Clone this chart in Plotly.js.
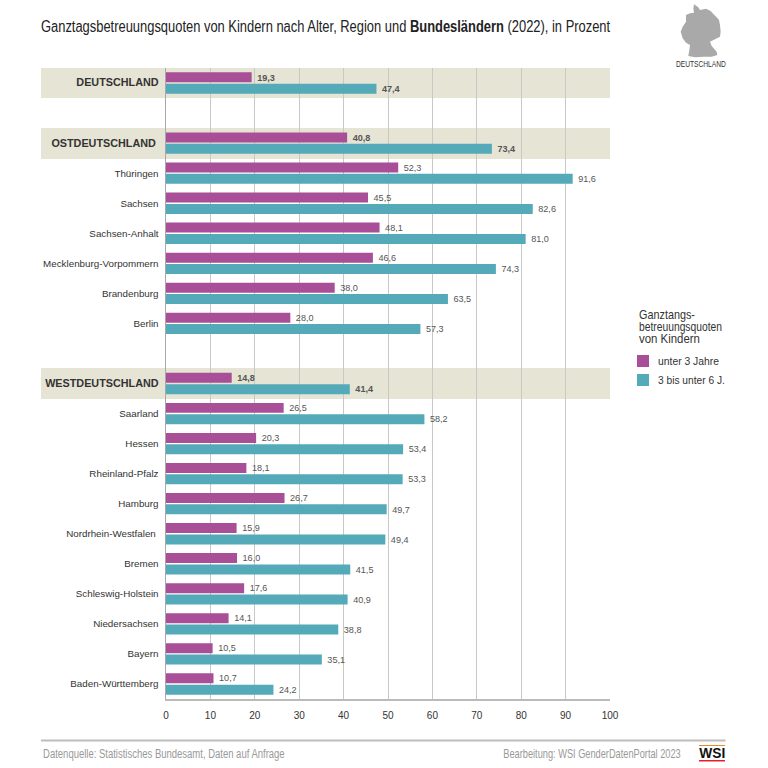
<!DOCTYPE html>
<html>
<head>
<meta charset="utf-8">
<script src="https://cdn.plot.ly/plotly-3.0.1.min.js"></script>
<style>html,body{margin:0;padding:0;background:#fff}</style>
</head>
<body>
<div id="chart" style="width:768px;height:768px"></div>
<script>
const categories = ["DEUTSCHLAND","leer1","OSTDEUTSCHLAND","Thüringen","Sachsen","Sachsen-Anhalt","Mecklenburg-Vorpommern","Brandenburg","Berlin","leer2","WESTDEUTSCHLAND","Saarland","Hessen","Rheinland-Pfalz","Hamburg","Nordrhein-Westfalen","Bremen","Schleswig-Holstein","Niedersachsen","Bayern","Baden-Württemberg"];
const under3 = [19.3,null,40.8,52.3,45.5,48.1,46.6,38.0,28.0,null,14.8,26.5,20.3,18.1,26.7,15.9,16.0,17.6,14.1,10.5,10.7];
const from3to6 = [47.4,null,73.4,91.6,82.6,81.0,74.3,63.5,57.3,null,41.4,58.2,53.4,53.3,49.7,49.4,41.5,40.9,38.8,35.1,24.2];
const headers = ["DEUTSCHLAND","OSTDEUTSCHLAND","WESTDEUTSCHLAND"];
const seriesNames = ["unter 3 Jahre","3 bis unter 6 J."];
const seriesColors = ["#a94f97","#55aab9"];
const legendLines = ["Ganztangs-","betreuungsquoten","von Kindern"];
const NARROW = '"Liberation Sans",Arial,sans-serif';
const SANS = '"Liberation Sans",Arial,sans-serif';

const fmt = (v,c) => {
  if (v === null) return "";
  const s = "\u00a0" + v.toFixed(1).replace(".",",");
  return headers.includes(c) ? "<b>"+s+"</b>" : s;
};
const tickLabel = c => {
  if (c.startsWith("leer")) return "";
  if (c === "OSTDEUTSCHLAND") return '<span style="font-size:10.8px"><b>'+c+'</b></span>\u00a0';
  if (headers.includes(c)) return '<span style="font-size:10.8px"><b>'+c+'</b></span>';
  if (c === "Nordrhein-Westfalen") return c+"\u00a0";
  return c;
};
const bar = (vals,i) => ({
  type:"bar", orientation:"h", name:seriesNames[i], x:vals, y:categories,
  marker:{color:seriesColors[i]},
  text:vals.map((v,k)=>fmt(v,categories[k])), textposition:"outside",
  textfont:{family:SANS,size:10,color:"#555"}, cliponaxis:false,
  hoverinfo:"x+y"
});

const L=166,R=610,T=68,B=699;
const px = x => (x-L)/(R-L);
const py = y => (B-y)/(B-T);
const band = (y0,y1) => ({type:"rect",xref:"paper",yref:"paper",x0:px(41),x1:px(610),y0:py(y0),y1:py(y1),fillcolor:"#e6e4d4",line:{width:0},layer:"below"});
const mapPts = [[72,13],[85,22],[90,30],[108,26],[122,33],[130,42],[140,52],[147,60],[150,75],[152,95],[150,110],[135,118],[120,125],[125,138],[140,155],[142,165],[125,170],[100,170],[75,172],[55,168],[58,150],[60,135],[48,128],[38,115],[32,95],[38,80],[48,65],[48,45],[60,40],[72,38],[70,25]];
const mapPath = "M"+mapPts.map(p=>px(670+p[0]/3).toFixed(4)+","+py(p[1]/3).toFixed(4)).join("L")+"Z";

const note = (x,y,text,size,color,anchor,family) => ({xref:"paper",yref:"paper",x:px(x),y:py(y),text,showarrow:false,xanchor:anchor||"left",yanchor:"middle",font:{family:family||NARROW,size,color}});

// widths the condensed reference lettering occupies; no condensed font is installed
const annWidths = [50,242,178,26,56,83,61];
const annPivot = ["mid","left","right","mid","left","left","left"];

const layout = {
  width:768,height:768,autosize:false,
  margin:{l:L,r:768-R,t:T,b:768-B,pad:0},
  paper_bgcolor:"#fff",plot_bgcolor:"rgba(0,0,0,0)",
  barmode:"group",bargap:0.245,bargroupgap:0.12,
  showlegend:true,
  title:{text:"Ganztagsbetreuungsquoten von Kindern nach Alter, Region und <b>Bundesländern</b> (2022), in Prozent",
    font:{family:NARROW,size:16,color:"#222"},x:41/768,xanchor:"left",xref:"container",y:1-26/768,yanchor:"middle"},
  xaxis:{range:[0,100],tickvals:[0,10,20,30,40,50,60,70,80,90,100],ticks:"",showgrid:true,gridcolor:"#c8c8c4",gridwidth:1,
    showline:true,linecolor:"#bbbbbb",linewidth:2,zeroline:false,fixedrange:true,
    tickfont:{family:SANS,size:10,color:"#333"},ticklabelstandoff:6},
  yaxis:{type:"category",categoryorder:"array",categoryarray:categories,range:[20.5,-0.5],
    tickmode:"array",tickvals:categories,ticktext:categories.map(tickLabel),ticks:"",
    showgrid:false,showline:true,linecolor:"#a8a8a8",linewidth:1.5,zeroline:false,fixedrange:true,
    tickfont:{family:SANS,size:9.8,color:"#333"},ticklabelstandoff:4},
  legend:{xref:"container",yref:"container",x:623/768,y:1-346.5/768,xanchor:"left",yanchor:"top",bgcolor:"rgba(0,0,0,0)",traceorder:"normal",
    font:{family:NARROW,size:11.5,color:"#333"},itemclick:false,itemdoubleclick:false},
  shapes:[
    band(68,98),band(128,159),band(368,399),
    {type:"path",xref:"paper",yref:"paper",path:mapPath,fillcolor:"#a9a9a9",line:{width:0}},
    {type:"line",xref:"paper",yref:"paper",x0:px(41),x1:px(725.5),y0:py(740.5),y1:py(740.5),line:{color:"#bdbdbd",width:2}},
    {type:"rect",xref:"paper",yref:"paper",x0:px(699),x1:px(725),y0:py(745),y1:py(746),fillcolor:"#ee8a1d",line:{width:0}},
    {type:"rect",xref:"paper",yref:"paper",x0:px(699),x1:px(725),y0:py(760),y1:py(761.5),fillcolor:"#e3202c",line:{width:0}}
  ],
  annotations:[
    note(701,64.5,"DEUTSCHLAND",8.5,"#333","center"),
    note(41,754,"Datenquelle: Statistisches Bundesamt, Daten auf Anfrage",12,"#999"),
    note(683,754,"Bearbeitung: WSI GenderDatenPortal 2023",12,"#999","right"),
    note(712,753,"<b>WSI</b>",14,"#111","center",SANS),
    note(637,315,legendLines[0],12,"#333"),
    note(637,327,legendLines[1],12,"#333"),
    note(637,338.5,legendLines[2],12,"#333")
  ]
};

function squeeze(el,width,pivot,shift){
  const b = el.getBBox();
  const s = width / b.width;
  const p = pivot==="left" ? b.x : pivot==="right" ? b.x+b.width : b.x+b.width/2;
  el.setAttribute("transform",`translate(${p+(shift||0)},0) scale(${s},1) translate(${-p},0)`);
}
Plotly.newPlot("chart",[bar(under3,0),bar(from3to6,1)],layout,{displayModeBar:false,staticPlot:true}).then(gd=>{
  squeeze(gd.querySelector(".gtitle"),570,"left");
  gd.querySelectorAll(".annotation-text").forEach((el,i)=>{ squeeze(el,annWidths[i],annPivot[i]); });
  const lw=[61,67];
  gd.querySelectorAll(".legendtext").forEach((el,i)=>{ squeeze(el,lw[i],"left",-5); });
});
</script>
</body>
</html>
